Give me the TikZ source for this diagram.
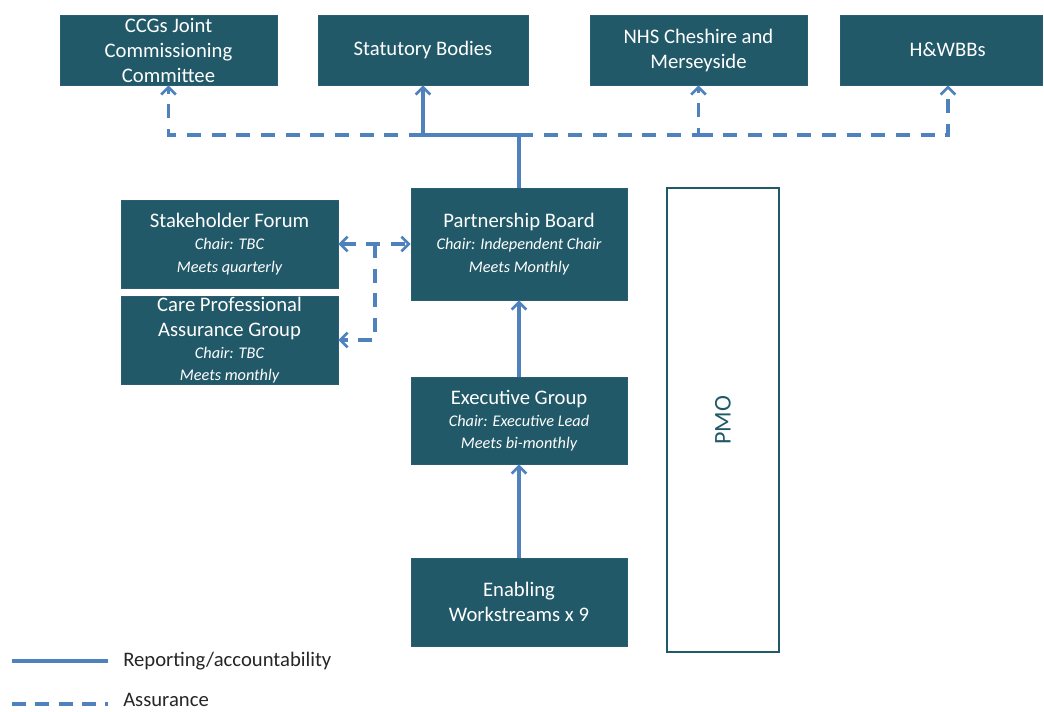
\documentclass[tikz,border=0pt]{standalone}
\usepackage{fontspec}
\setmainfont{Carlito}
\usetikzlibrary{arrows.meta}
\definecolor{boxteal}{HTML}{215968}
\definecolor{lineblue}{HTML}{4F81BD}
\definecolor{legendgray}{HTML}{262626}
\tikzset{
  box/.style={draw=boxteal!85!lineblue, line width=0.6pt, fill=boxteal, text=white, align=center, inner sep=0pt},
  ttl/.style={font=\fontsize{15.5}{18.75}\selectfont},
  rep/.style={draw=lineblue, line width=2.4pt},
  ass/.style={draw=lineblue, line width=2.4pt, dash pattern=on 10.5pt off 8pt},
  tip/.style={-{Straight Barb[length=5.5pt,width=11pt,line width=2pt]}},
  btip/.style={{Straight Barb[length=5.5pt,width=11pt,line width=2pt]}-{Straight Barb[length=5.5pt,width=11pt,line width=2pt]}},
  legtext/.style={anchor=west, inner sep=0pt, text=legendgray, font=\fontsize{15.5}{18}\selectfont}
}
\newcommand{\sub}[1]{{\fontsize{12.2}{15.5}\selectfont\itshape #1}}
\begin{document}
\begin{tikzpicture}[x=0.75pt,y=-0.75pt]
\useasboundingbox (0,0) rectangle (1044,711);
% top row
\node[box, ttl, minimum width=162.75pt, minimum height=52.5pt] (ccg) at (168.5,50) {CCGs Joint\\Commissioning\\Committee};
\node[box, ttl, minimum width=157.5pt, minimum height=52.5pt] (stat) at (423,50) {Statutory Bodies};
\node[box, ttl, minimum width=162.75pt, minimum height=52.5pt] (nhs) at (698.5,50) {NHS Cheshire and\\Merseyside};
\node[box, ttl, minimum width=151.5pt, minimum height=52.5pt] (hw) at (941,50) {\hspace*{10pt}H\&WBBs};
% middle
\node[box, ttl, minimum width=162.75pt, minimum height=66pt] (sf) at (229.5,244) {Stakeholder Forum\\[-2pt]\sub{Chair: TBC}\\[-2pt]\sub{Meets quarterly}};
\node[box, ttl, minimum width=162.75pt, minimum height=66pt] (cpa) at (229.5,340) {Care Professional\\Assurance Group\\[-2pt]\sub{Chair: TBC}\\[-2pt]\sub{Meets monthly}};
\node[box, ttl, minimum width=162pt, minimum height=84pt] (pb) at (519,244) {Partnership Board\\[-2pt]\sub{Chair: Independent Chair}\\[-2pt]\sub{Meets Monthly}};
\node[box, ttl, minimum width=162pt, minimum height=65.25pt] (eg) at (519,420.5) {Executive Group\\[-2pt]\sub{Chair: Executive Lead}\\[-2pt]\sub{Meets bi-monthly}};
\node[box, ttl, minimum width=162pt, minimum height=66pt] (ew) at (519,602) {Enabling\\Workstreams x 9};
\node[draw=boxteal, line width=1.5pt, fill=white, minimum width=84pt, minimum height=348pt, inner sep=0pt] (pmo) at (723,420) {};
\node[rotate=90, text=boxteal, font=\fontsize{18}{20}\selectfont] (pmot) at (pmo.center) {PMO};
% connectors
\coordinate (j) at (519,135);
\coordinate (k) at (375,244);
\coordinate (hwin) at ([xshift=5.25pt]hw.south);
\draw[rep] (pb.north) -- (j);
\draw[rep, tip] (j) -| (stat.south);
\draw[ass, tip] (stat.south |- j) -| (ccg.south);
\draw[ass, tip] (j) -| (nhs.south);
\draw[ass, tip] (nhs.south |- j) -| (hwin);
\draw[ass, btip] (sf.east) -- (pb.west);
\draw[ass, tip] (k) |- (cpa.east);
\draw[rep, tip] (eg.north) -- (pb.south);
\draw[rep, tip] (ew.north) -- (eg.south);
% legend
\coordinate (la) at (12,661);
\coordinate (lb) at (108,661);
\coordinate (lc) at (12,704);
\coordinate (ld) at (108,704);
\draw[rep] (la) -- (lb);
\draw[ass, dash pattern=on 10.5pt off 7pt] (lc) -- (ld);
\node[legtext] (lt1) at (123,661) {Reporting/accountability};
\node[legtext] (lt2) at (123,700) {Assurance};
\end{tikzpicture}
\end{document}
